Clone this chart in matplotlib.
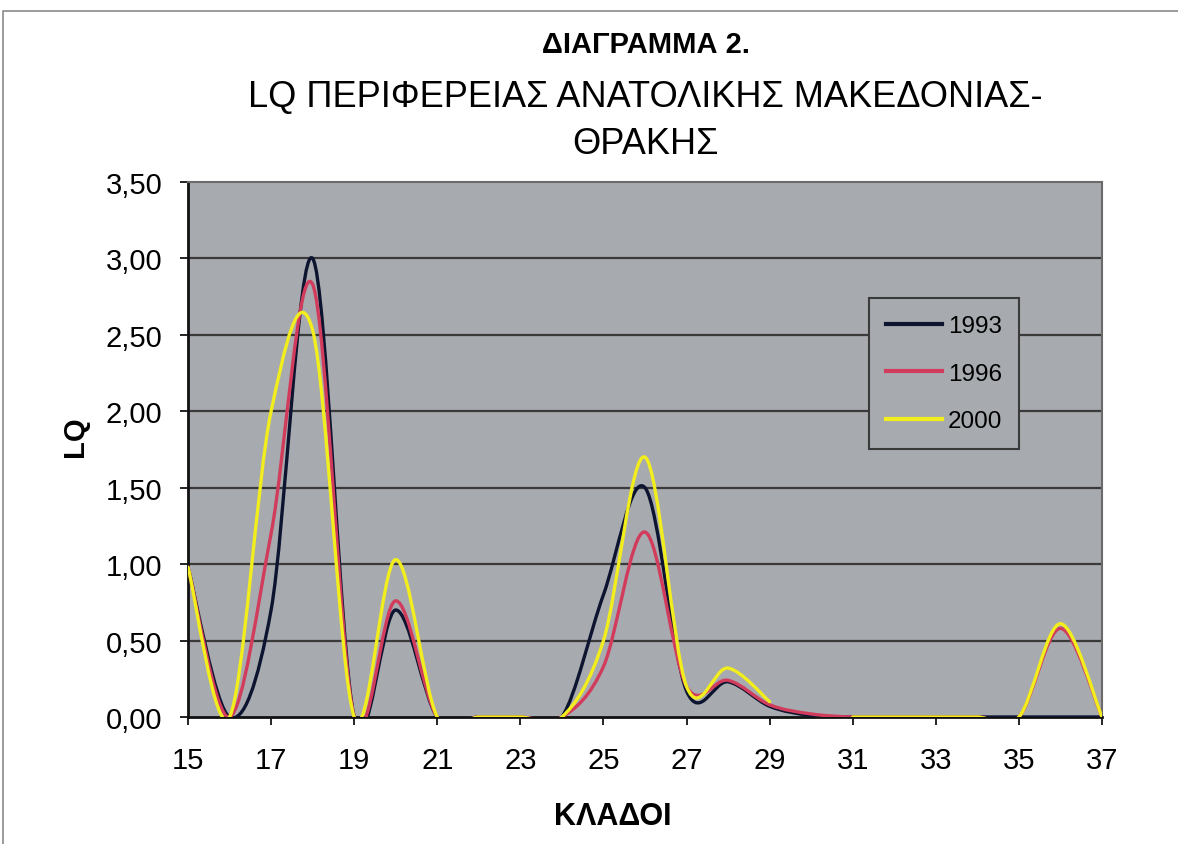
#!/usr/bin/env python3
"""LQ of Eastern Macedonia-Thrace region by sector, 1993/1996/2000."""

import numpy as np
import matplotlib
matplotlib.use("Agg")
import matplotlib.pyplot as plt
from matplotlib.path import Path
from matplotlib.patches import PathPatch
from matplotlib.lines import Line2D

plt.rcParams["font.family"] = ["Liberation Sans", "DejaVu Sans"]

nan = np.nan
kladoi = list(range(15, 38))
lq_1993 = [0.98, 0, 0.70, 3.00, 0, 0.70, 0, 0, 0, 0, 0.80, 1.50, 0.17, 0.23, 0.07, 0.01,
           0, 0, 0, 0, 0, 0, 0]
lq_1996 = [0.98, 0, 1.20, 2.83, 0, 0.76, 0, 0, 0, 0, 0.33, 1.21, 0.20, 0.24, 0.08, 0.02,
           0, 0, 0, 0, 0, 0.58, 0]
lq_2000 = [0.98, 0, 2.00, 2.53, 0, 1.03, 0, 0, 0, 0, 0.50, 1.70, 0.20, 0.32, 0.10, nan,
           0, 0, 0, 0, 0, 0.61, 0]
years = ["1993", "1996", "2000"]
colors = ["#0d1430", "#d23c5c", "#f2ee1e"]
xticks = list(range(15, 38, 2))
yticks = [0, 0.5, 1.0, 1.5, 2.0, 2.5, 3.0, 3.5]


def smooth_path(xs, ys):
    # Excel-like smoothed line: cubic bezier through points, split at blanks
    verts, codes = [], []
    pts = np.column_stack([xs, ys]).astype(float)
    ok = np.isfinite(pts[:, 1])
    runs, cur = [], []
    for p, good in zip(pts, ok):
        if good:
            cur.append(p)
        elif cur:
            runs.append(cur)
            cur = []
    if cur:
        runs.append(cur)
    for run in runs:
        run = np.array(run)
        n = len(run)
        if n < 2:
            continue
        verts.append(run[0])
        codes.append(Path.MOVETO)
        for i in range(n - 1):
            p0 = run[i - 1] if i > 0 else run[i]
            p3 = run[i + 2] if i + 2 < n else run[i + 1]
            c1 = run[i] + (run[i + 1] - p0) / 6.0
            c2 = run[i + 1] - (p3 - run[i]) / 6.0
            verts += [c1, c2, run[i + 1]]
            codes += [Path.CURVE4] * 3
    return Path(verts, codes)


fig = plt.figure(figsize=(11.78, 8.45), dpi=100)
ax = fig.add_axes([188 / 1178, 1 - 718 / 845, 914 / 1178, 535 / 845])
ax.set_facecolor("#a7aaaf")

for yv in yticks[1:-1]:
    ax.axhline(yv, color="#3a3a3a", lw=1.6, zorder=1)

for vals, col in zip([lq_1993, lq_1996, lq_2000], colors):
    patch = PathPatch(smooth_path(kladoi, vals), fill=False, edgecolor=col,
                      lw=2.4, zorder=3, capstyle="round", joinstyle="round")
    ax.add_patch(patch)

ax.set_xlim(15, 37)
ax.set_ylim(0, 3.5)
ax.set_xticks(xticks)
ax.set_xticklabels([str(k) for k in xticks])
ax.set_yticks(yticks)
ax.set_yticklabels([f"{v:.2f}".replace(".", ",") for v in yticks])
ax.tick_params(axis="y", direction="out", length=6, width=1.2, pad=12.5, labelsize=21)
ax.tick_params(axis="x", direction="out", length=6, width=1.2, pad=15, labelsize=21)

for side in ("left", "bottom"):
    ax.spines[side].set_color("#111111")
    ax.spines[side].set_linewidth(2)
for side in ("top", "right"):
    ax.spines[side].set_color("#6a6a6a")
    ax.spines[side].set_linewidth(1.5)

handles = [Line2D([], [], color=c, lw=3) for c in colors]
leg = fig.legend(handles, years, loc="upper left",
                 bbox_to_anchor=(869 / 1178, 1 - 299 / 845), borderaxespad=0,
                 fontsize=17.5, handlelength=2.3, handletextpad=0.25,
                 labelspacing=1.05, borderpad=0.7, fancybox=False, framealpha=1)
leg.get_frame().set_facecolor("#a7aaaf")
leg.get_frame().set_edgecolor("#3a3a3a")
leg.get_frame().set_linewidth(1.5)

fig.text(0.548, 1 - 45 / 845, "ΔΙΑΓΡΑΜΜΑ 2.", ha="center", va="center",
         fontsize=21, fontweight="bold")
fig.text(0.548, 1 - 98 / 845, "LQ ΠΕΡΙΦΕΡΕΙΑΣ ΑΝΑΤΟΛΙΚΗΣ ΜΑΚΕΔΟΝΙΑΣ-", ha="center",
         va="center", fontsize=26)
fig.text(0.548, 1 - 145 / 845, "ΘΡΑΚΗΣ", ha="center", va="center", fontsize=26)
fig.text(613 / 1178, 1 - 817 / 845, "ΚΛΑΔΟΙ", ha="center", va="center",
         fontsize=22, fontweight="bold")
fig.text(75 / 1178, 1 - 437 / 845, "LQ", ha="center", va="center", rotation=90,
         fontsize=21, fontweight="bold")

# outer chart border (top and left visible in the scan)
fig.add_artist(Line2D([3 / 1178, 3 / 1178, 1.0], [0.0, 1 - 12 / 845, 1 - 12 / 845],
                      transform=fig.transFigure, color="#8a8a8a", lw=1.2))

fig.savefig("out.png", dpi=100)
